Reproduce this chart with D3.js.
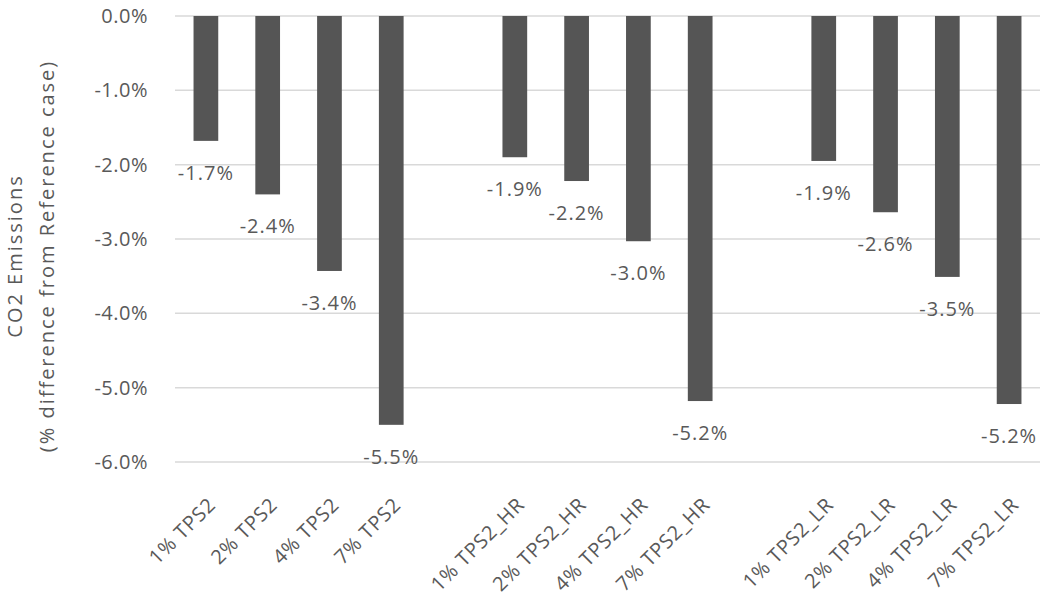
<!DOCTYPE html>
<html>
<head>
<meta charset="utf-8">
<script src="https://cdn.jsdelivr.net/npm/d3@7"></script>
<style>
  body { margin: 0; background: #fff; }
  text { font-family: "Open Sans", "DejaVu Sans", sans-serif; fill: #595959; }
</style>
</head>
<body>
<svg id="chart" width="1050" height="600"></svg>
<script>
// categories ("" = empty gap slot between groups)
const categories = ["1% TPS2", "2% TPS2", "4% TPS2", "7% TPS2", "",
                    "1% TPS2_HR", "2% TPS2_HR", "4% TPS2_HR", "7% TPS2_HR", "",
                    "1% TPS2_LR", "2% TPS2_LR", "4% TPS2_LR", "7% TPS2_LR"]
// bar values (% difference), null for gap slots
const values = [-1.68, -2.4, -3.43, -5.5, null,
                -1.9, -2.22, -3.03, -5.18, null,
                -1.95, -2.64, -3.51, -5.22]
const labels = ["-1.7%", "-2.4%", "-3.4%", "-5.5%", "",
                "-1.9%", "-2.2%", "-3.0%", "-5.2%", "",
                "-1.9%", "-2.6%", "-3.5%", "-5.2%"]
const yTicks = [0, -1, -2, -3, -4, -5, -6]

const svg = d3.select("#chart")
const mLeft = 175, mRight = 1040, mTop = 16, mBottom = 462

var x = d3.scaleBand()
          .domain(d3.range(categories.length))
          .range([mLeft, mRight])
          .paddingInner(0.6)
          .paddingOuter(0.3)

var y = d3.scaleLinear().domain([0, -6]).range([mTop, mBottom])

// gridlines
svg.append("g")
   .selectAll("line")
   .data(yTicks)
   .enter()
   .append("line")
   .attr("x1", mLeft)
   .attr("x2", mRight)
   .attr("y1", d => y(d))
   .attr("y2", d => y(d))
   .attr("stroke", "#d9d9d9")
   .attr("stroke-width", 1.5)

// y axis tick labels (plain hyphen, like the original)
var fmt = d3.formatLocale({decimal: ".", thousands: ",", grouping: [3], currency: ["", ""], minus: "-"}).format(".1f")

var yAxis = d3.axisLeft(y)
              .tickValues(yTicks)
              .tickFormat(d => fmt(d) + "%")
              .tickSize(0)
              .tickPadding(0)

var gy = svg.append("g")
            .attr("transform", `translate(${mLeft - 27},0)`)
            .call(yAxis)
gy.select(".domain").remove()
gy.selectAll("text")
  .attr("font-size", 20)
  .attr("fill", "#595959")
  .attr("letter-spacing", 0.5)
  .style("font-family", '"Open Sans", "DejaVu Sans", sans-serif')

// bars
var idx = d3.range(categories.length).filter(i => values[i] !== null)

svg.append("g")
   .selectAll("rect")
   .data(idx)
   .enter()
   .append("rect")
   .attr("x", i => x(i))
   .attr("width", x.bandwidth())
   .attr("y", y(0))
   .attr("height", i => y(values[i]) - y(0))
   .attr("fill", "#555555")

// value labels under the bars
svg.append("g")
   .selectAll("text")
   .data(idx)
   .enter()
   .append("text")
   .attr("x", i => x(i) + x.bandwidth() / 2)
   .attr("y", i => y(values[i]) + 39)
   .attr("text-anchor", "middle")
   .attr("font-size", 20)
   .attr("letter-spacing", 1)
   .text(i => labels[i])

// x category labels, rotated
svg.append("g")
   .selectAll("text")
   .data(idx)
   .enter()
   .append("text")
   .attr("transform", i => `translate(${x(i) + x.bandwidth() / 2 + 11},${mBottom + 44}) rotate(-45)`)
   .attr("text-anchor", "end")
   .attr("font-size", 20)
   .attr("letter-spacing", 0.8)
   .text(i => categories[i])

// y axis title
var title = svg.append("text")
               .attr("transform", `translate(22,256) rotate(-90)`)
               .attr("text-anchor", "middle")
               .attr("font-size", 20)
               .attr("letter-spacing", 2)
title.append("tspan").attr("x", 0).attr("dy", 0).text("CO2 Emissions")
title.append("tspan").attr("x", 0).attr("dy", 32).text("(% difference from Reference case)")
</script>
</body>
</html>
